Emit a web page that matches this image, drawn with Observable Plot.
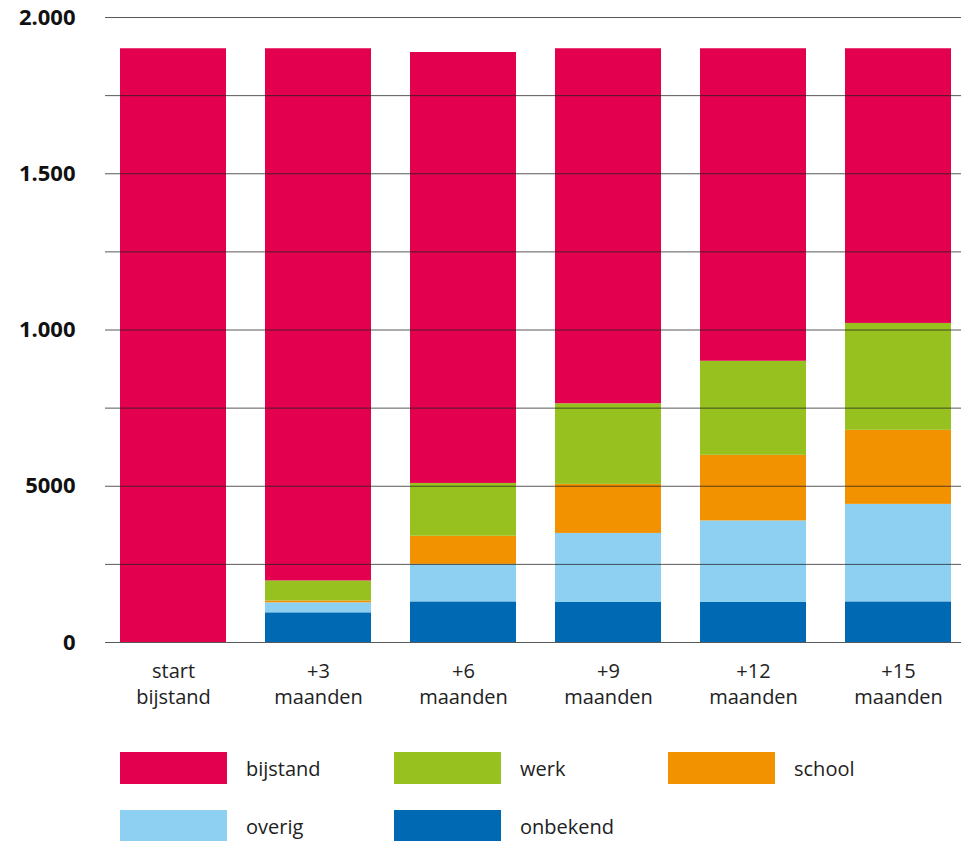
<!DOCTYPE html>
<html><head><meta charset="utf-8">
<script src="https://cdn.jsdelivr.net/npm/d3@7"></script>
<script src="https://cdn.jsdelivr.net/npm/@observablehq/plot@0.6"></script>
<style>
body{margin:0;background:#fff;font-family:"Open Sans",sans-serif;}
#legend{display:grid;grid-template-columns:274px 274px 274px;row-gap:26px;margin:32px 0 0 120px;}
.item{display:flex;align-items:center;height:32px;font-size:20px;color:#222;}
.sw{width:107px;height:32px;margin-right:19px;flex:none;}
</style></head><body>
<div id="chart"></div><div id="legend"></div>
<script>
const categories = ["start bijstand","+3 maanden","+6 maanden","+9 maanden","+12 maanden","+15 maanden"];
const labelLine1 = ["start","+3","+6","+9","+12","+15"];
const labelLine2 = ["bijstand","maanden","maanden","maanden","maanden","maanden"];
const series = ["bijstand","werk","school","overig","onbekend"];
const colors = ["#e2004f","#97c11f","#f39200","#8dd0f2","#0069b4"];
const bijstand = [1900,1703,1379,1136,1000,879];
const werk     = [0,64,169,258,301,342];
const school   = [0,6,90,157,210,237];
const overig   = [0,32,120,221,261,312];
const onbekend = [0,95,130,128,128,130];
const gridTicks = [0,250,500,750,1000,1250,1500,1750,2000];
const labelTicks = [0,500,1000,1500,2000];
const tickLabels = ["0","5000","1.000","1.500","2.000"];

const values = {bijstand, werk, school, overig, onbekend};
const stackOrder = ["onbekend","overig","school","werk","bijstand"];
const data = [];
for (const s of stackOrder) categories.forEach((c,i) => data.push({cat:c, series:s, value:values[s][i]}));

const chart = Plot.plot({
  width: 961,
  height: 720,
  marginTop: 17,
  marginBottom: 78,
  marginLeft: 105,
  marginRight: 0,
  style: {fontFamily: '"Open Sans", sans-serif', background: "#fff", color: "#222"},
  x: {domain: categories, paddingInner: 0.27, paddingOuter: 0.0867, align: 0.6, label: null},
  y: {domain: [0, 2000], label: null},
  color: {domain: series, range: colors},
  marks: [
    Plot.barY(data, Plot.stackY({x: "cat", y: "value", fill: "series", order: stackOrder})),
    Plot.gridY(gridTicks, {stroke: "#222", strokeOpacity: 0.75, strokeWidth: 1}),
    Plot.axisY(labelTicks, {tickSize: 0, tickPadding: 30, fontSize: 22, fontWeight: "bold", fill: "#111",
      tickFormat: d => tickLabels[labelTicks.indexOf(d)], label: null}),
    Plot.axisX({tickSize: 0, tickPadding: 21, fontSize: 20, fill: "#222", label: null,
      tickFormat: d => labelLine1[categories.indexOf(d)]}),
    Plot.axisX({tickSize: 0, tickPadding: 47, fontSize: 20, fill: "#222", label: null,
      tickFormat: d => labelLine2[categories.indexOf(d)]})
  ]
});
document.getElementById("chart").appendChild(chart);

const legend = document.getElementById("legend");
series.forEach((s,i) => {
  const item = document.createElement("div");
  item.className = "item";
  const sw = document.createElement("div");
  sw.className = "sw";
  sw.style.background = colors[i];
  const lab = document.createElement("span");
  lab.textContent = s;
  item.appendChild(sw); item.appendChild(lab);
  legend.appendChild(item);
});
</script>
</body></html>
